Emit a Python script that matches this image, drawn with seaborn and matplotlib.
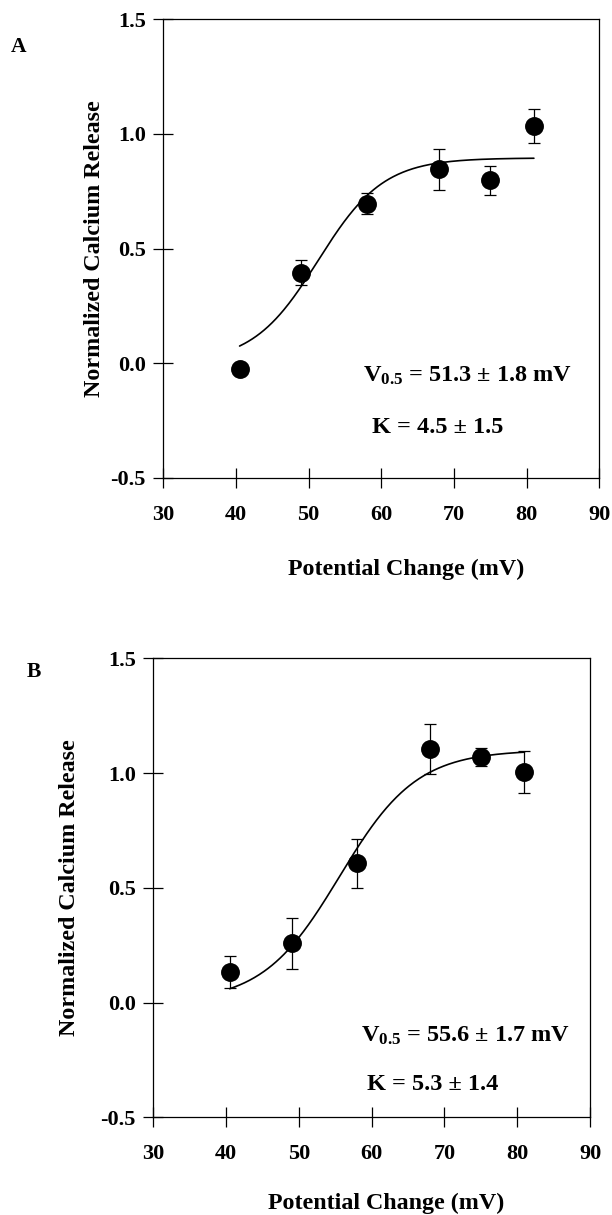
import numpy as np
import pandas as pd
import matplotlib
matplotlib.use("Agg")
import matplotlib.pyplot as plt
import seaborn as sns

# ---- data ----
potential_a = [40.5, 49.0, 58.0, 68.0, 75.0, 81.0]
release_a = [-0.025, 0.395, 0.695, 0.845, 0.797, 1.034]
err_a = [0.0, 0.055, 0.045, 0.088, 0.065, 0.075]

potential_b = [40.5, 49.0, 58.0, 68.0, 75.0, 81.0]
release_b = [0.133, 0.258, 0.606, 1.105, 1.070, 1.005]
err_b = [0.068, 0.110, 0.108, 0.110, 0.040, 0.090]

v05_a, k_a, amp_a = 51.3, 4.5, 0.895
v05_b, k_b, amp_b = 55.6, 5.3, 1.10
fit_range = (40.5, 81.0)

xticks = [30, 40, 50, 60, 70, 80, 90]
yticks = [-0.5, 0.0, 0.5, 1.0, 1.5]

sns.set_theme(style="ticks")
plt.rcParams["font.family"] = ["Liberation Serif", "DejaVu Serif"]
plt.rcParams["font.weight"] = "bold"
plt.rcParams["text.color"] = "black"
plt.rcParams["axes.labelcolor"] = "black"
plt.rcParams["mathtext.fontset"] = "custom"
plt.rcParams["mathtext.rm"] = "Liberation Serif:bold"
plt.rcParams["mathtext.bf"] = "Liberation Serif:bold"
plt.rcParams["mathtext.it"] = "Liberation Serif:bold"

W, H = 612, 1215
fig = plt.figure(figsize=(W / 100, H / 100), dpi=100)


def rect(l, r, t, b):
    return [l / W, 1 - b / H, (r - l) / W, (b - t) / H]


panels = [
    dict(rect=rect(163.3, 599.3, 19.3, 477.7), x=potential_a, y=release_a, e=err_a,
         v05=v05_a, k=k_a, amp=amp_a, letter="A", letter_xy=(19, 47.5),
         vtext=r"$\mathrm{V}_{0.5}$ = 51.3 ± 1.8 mV", ktext="K = 4.5 ± 1.5",
         vpos=(57.5, -0.054), kpos=(58.7, -0.282),
         ylab=(-0.157, 0.5), xlab=(0.558, -0.201)),
    dict(rect=rect(153.3, 590.0, 658.3, 1117.3), x=potential_b, y=release_b, e=err_b,
         v05=v05_b, k=k_b, amp=amp_b, letter="B", letter_xy=(33.4, 672),
         vtext=r"$\mathrm{V}_{0.5}$ = 55.6 ± 1.7 mV", ktext="K = 5.3 ± 1.4",
         vpos=(58.5, -0.145), kpos=(59.3, -0.355),
         ylab=(-0.193, 0.5), xlab=(0.534, -0.188)),
]

for p in panels:
    ax = fig.add_axes(p["rect"])
    df = pd.DataFrame({"Potential": p["x"], "Release": p["y"], "err": p["e"]})
    xf = np.linspace(fit_range[0], fit_range[1], 300)
    yf = p["amp"] / (1.0 + np.exp((p["v05"] - xf) / p["k"]))
    fit = pd.DataFrame({"Potential": xf, "Release": yf})

    sns.lineplot(data=fit, x="Potential", y="Release", ax=ax, color="black", lw=1.2)
    ax.errorbar(df["Potential"], df["Release"], yerr=df["err"], fmt="none",
                ecolor="black", elinewidth=0.9, capsize=4.2, capthick=0.9, zorder=3)
    sns.scatterplot(data=df, x="Potential", y="Release", ax=ax, color="black",
                    s=185, edgecolor="black", linewidth=0, zorder=4)

    ax.set_xlim(30, 90)
    ax.set_ylim(-0.5, 1.5)
    ax.set_xticks(xticks)
    ax.set_yticks(yticks)
    ax.set_xticklabels([str(t) for t in xticks])
    ax.set_yticklabels([f"{t:.1f}" for t in yticks])
    for s in ax.spines.values():
        s.set_visible(True)
        s.set_linewidth(0.9)
        s.set_color("black")
    ax.tick_params(axis="x", direction="inout", length=15, width=0.9, pad=12,
                   labelsize=16, colors="black")
    ax.tick_params(axis="y", direction="inout", length=15, width=0.9, pad=5,
                   labelsize=16, colors="black")
    for lab in ax.get_xticklabels() + ax.get_yticklabels():
        lab.set_fontweight("bold")

    ax.set_ylabel("Normalized Calcium Release", fontsize=17.3, fontweight="bold",
                  va="center", color="black")
    ax.yaxis.set_label_coords(*p["ylab"])
    ax.set_xlabel("Potential Change (mV)", fontsize=17.3, fontweight="bold",
                  va="center", color="black")
    ax.xaxis.set_label_coords(*p["xlab"])

    ax.text(p["vpos"][0], p["vpos"][1], p["vtext"], fontsize=17.5, fontweight="bold",
            ha="left", va="center", color="black")
    ax.text(p["kpos"][0], p["kpos"][1], p["ktext"], fontsize=17.5, fontweight="bold",
            ha="left", va="center", color="black")

    fig.text(p["letter_xy"][0] / W, 1 - p["letter_xy"][1] / H, p["letter"],
             fontsize=15.5, fontweight="bold", ha="center", va="center", color="black")

fig.savefig("out.png", dpi=100, facecolor="white")
